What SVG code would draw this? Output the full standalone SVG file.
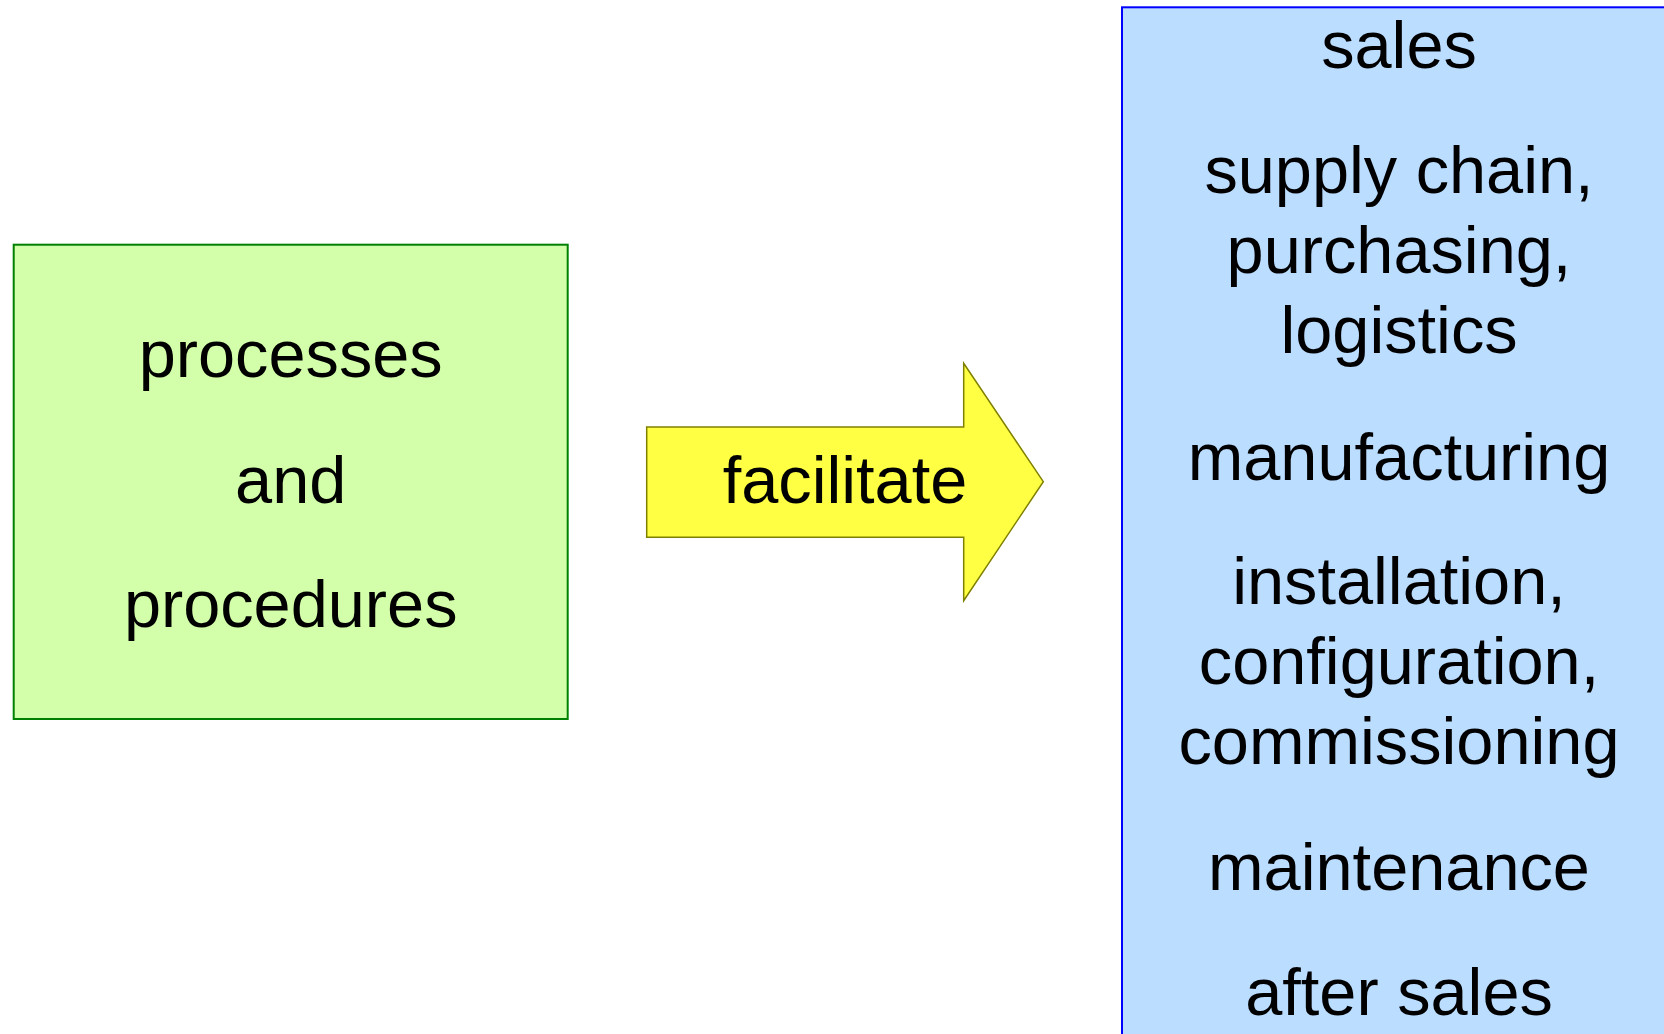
<svg xmlns="http://www.w3.org/2000/svg" width="1664" height="1034" viewBox="0 0 1664 1034">
  <style>
    .label { font-family: "Liberation Sans", Arial, sans-serif; font-size: 66.7px; fill: #000000; text-anchor: middle; }
    .green { fill: #d3ffaa; stroke: #008000; stroke-width: 2; }
    .blue { fill: #bbddff; stroke: #0000ff; stroke-width: 2; }
    .yellow { fill: #ffff44; stroke: #808000; stroke-width: 1.5; stroke-linejoin: miter; }
  </style>
  <rect width="1664" height="1034" fill="#ffffff"/>

  <!-- source: processes and procedures -->
  <g id="processes">
    <rect class="green" x="13.7" y="244.7" width="554" height="474.3"/>
    <text class="label" x="290.7" y="376.7">processes</text>
    <text class="label" x="290.7" y="502.7">and</text>
    <text class="label" x="290.7" y="626.7">procedures</text>
  </g>

  <!-- block arrow linking the two boxes -->
  <g id="connectors">
    <g id="facilitate">
      <polygon class="yellow" points="646.7,427 963.7,427 963.7,363.3 1043.3,481.7 963.7,600.7 963.7,537.3 646.7,537.3"/>
      <text class="label" x="845" y="502.7">facilitate</text>
    </g>
  </g>

  <!-- target: business areas -->
  <g id="business-areas">
    <rect class="blue" x="1122" y="7.3" width="560" height="1040"/>
    <text class="label" x="1399" y="68.3">sales</text>
    <text class="label" x="1399" y="193.3">supply chain,</text>
    <text class="label" x="1399" y="273.3">purchasing,</text>
    <text class="label" x="1399" y="353.3">logistics</text>
    <text class="label" x="1399" y="480">manufacturing</text>
    <text class="label" x="1399" y="604">installation,</text>
    <text class="label" x="1399" y="684">configuration,</text>
    <text class="label" x="1399" y="764">commissioning</text>
    <text class="label" x="1399" y="890">maintenance</text>
    <text class="label" x="1399" y="1015">after sales</text>
  </g>
</svg>
